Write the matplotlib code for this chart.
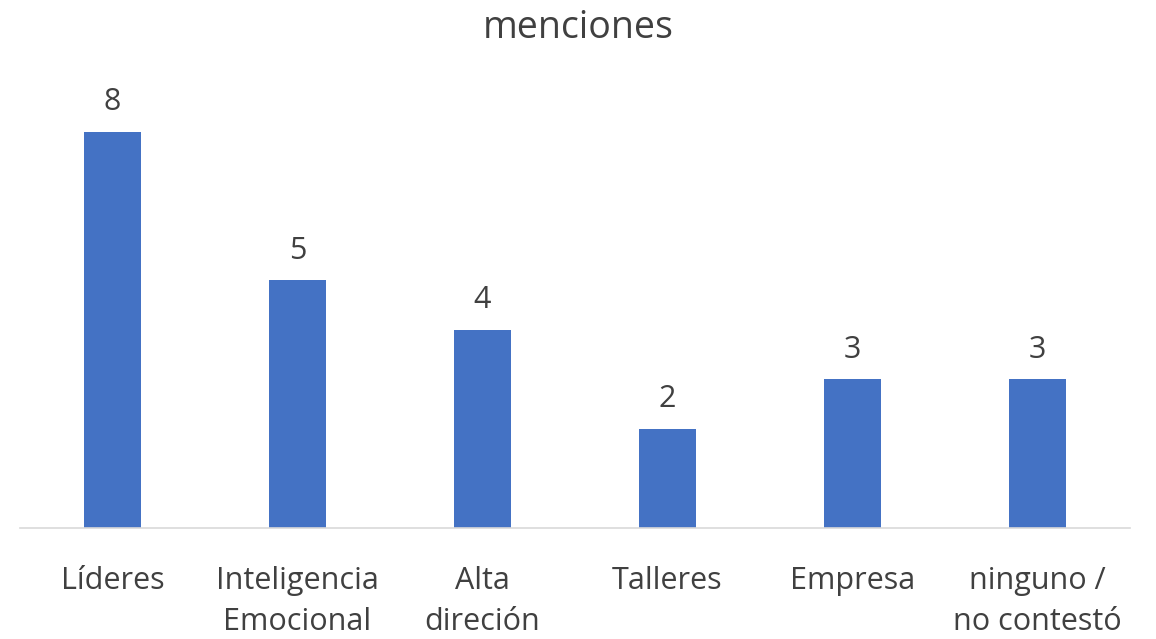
import matplotlib
matplotlib.use("Agg")
import matplotlib.pyplot as plt

categories = ["Líderes", "Inteligencia\nEmocional", "Alta\ndireción", "Talleres",
              "Empresa", "ninguno /\nno contestó"]
values = [8, 5, 4, 2, 3, 3]

plt.rcParams["font.family"] = ["Open Sans", "DejaVu Sans"]
txt = "#404040"

fig = plt.figure(figsize=(11.56, 6.39), dpi=100)
ax = fig.add_axes([0.0173, 0.1737, 0.9602, 0.6973])
x = range(len(values))
ax.bar(x, values, width=0.31, color="#4472C4")
for i, v in zip(x, values):
    ax.text(i, v + 0.3, str(v), ha="center", va="bottom", fontsize=22, color=txt)

ax.set_xlim(-0.5, len(values) - 0.5)
ax.set_ylim(0, 9)
ax.set_xticks(list(x))
ax.set_xticklabels(categories, fontsize=22, color=txt, linespacing=1.5)
ax.tick_params(axis="x", length=0, pad=27)
ax.set_yticks([])
for s in ["top", "left", "right"]:
    ax.spines[s].set_visible(False)
ax.spines["bottom"].set_color("#D9D9D9")
ax.spines["bottom"].set_linewidth(1.2)

fig.text(0.5, 0.956, "menciones", ha="center", va="center", fontsize=27, color=txt)

fig.savefig("out.png", dpi=100)
